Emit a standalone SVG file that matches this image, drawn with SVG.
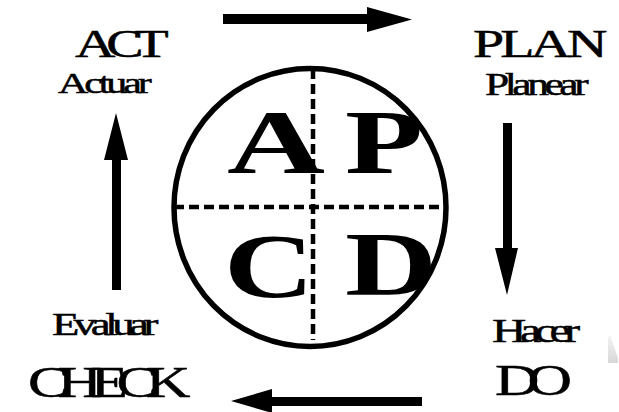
<svg xmlns="http://www.w3.org/2000/svg" width="619" height="412" viewBox="0 0 619 412">
<defs>
<style>
text{fill:#000}
.big{font-size:92px;font-weight:bold}
.lb{stroke:#000;stroke-width:0.5}
.dash{stroke:#000;stroke-width:4.5;stroke-dasharray:10 5;fill:none}
.arr{fill:#000;stroke:none}
</style>
<linearGradient id="g" x1="0" y1="0" x2="0" y2="1">
<stop offset="0" stop-color="#f4f4f4"/>
<stop offset="1" stop-color="#d8d8d8"/>
</linearGradient>
</defs>
<rect width="619" height="412" fill="#fff"/>
<g font-family="'Liberation Serif', 'Times New Roman', 'DejaVu Serif', serif">
<g id="cycle">
<ellipse cx="310" cy="207.5" rx="136" ry="139" fill="none" stroke="#000" stroke-width="5.5"/>
<line class="dash" x1="174" y1="207" x2="446" y2="207"/>
<line class="dash" x1="313" y1="69" x2="313" y2="340"/>
<text class="big" x="227" y="173" textLength="98" lengthAdjust="spacingAndGlyphs">A</text>
<text class="big" x="345" y="173" textLength="78" lengthAdjust="spacingAndGlyphs">P</text>
<text class="big" x="224" y="297" textLength="90" lengthAdjust="spacingAndGlyphs">C</text>
<text class="big" x="345" y="295" textLength="92" lengthAdjust="spacingAndGlyphs">D</text>
</g>
<g id="act">
<g transform="translate(75,57) scale(1.4,1)"><text class="lb" x="0" y="0" font-size="40" textLength="67" lengthAdjust="spacing">ACT</text></g>
<g transform="translate(58,93) scale(1.4,1)"><text class="lb" x="0" y="0" font-size="30" textLength="67" lengthAdjust="spacing">Actuar</text></g>
</g>
<g id="plan">
<g transform="translate(473,57) scale(1.4,1)"><text class="lb" x="0" y="0" font-size="40" textLength="96" lengthAdjust="spacing">PLAN</text></g>
<g transform="translate(485,95) scale(1.4,1)"><text class="lb" x="0" y="0" font-size="31" textLength="74" lengthAdjust="spacing">Planear</text></g>
</g>
<g id="check">
<g transform="translate(52,335) scale(1.4,1)"><text class="lb" x="0" y="0" font-size="32" textLength="76" lengthAdjust="spacing">Evaluar</text></g>
<g transform="translate(28,397) scale(1.4,1)"><text class="lb" x="0" y="0" font-size="44" textLength="116" lengthAdjust="spacing">CHECK</text></g>
</g>
<g id="do">
<g transform="translate(492,342) scale(1.4,1)"><text class="lb" x="0" y="0" font-size="34" textLength="63" lengthAdjust="spacing">Hacer</text></g>
<g transform="translate(495,395) scale(1.4,1)"><text class="lb" x="0" y="0" font-size="44" textLength="55" lengthAdjust="spacing">DO</text></g>
</g>
</g>
<g id="connectors">
<polygon class="arr" points="223,14 367,14 367,7 412,19.5 367,32 367,24 223,24"/>
<polygon class="arr" points="503,123 512,123 512,248 518,248 507,295 495,248 503,248"/>
<polygon class="arr" points="422,397 272,397 272,389 231,401 272,413 272,406 422,406"/>
<polygon class="arr" points="112,290 121,290 121,160 128,160 116,113 104,160 112,160"/>
</g>
<polygon points="608,337 610,335 618,358 618,363 608,363" fill="url(#g)"/>
</svg>
